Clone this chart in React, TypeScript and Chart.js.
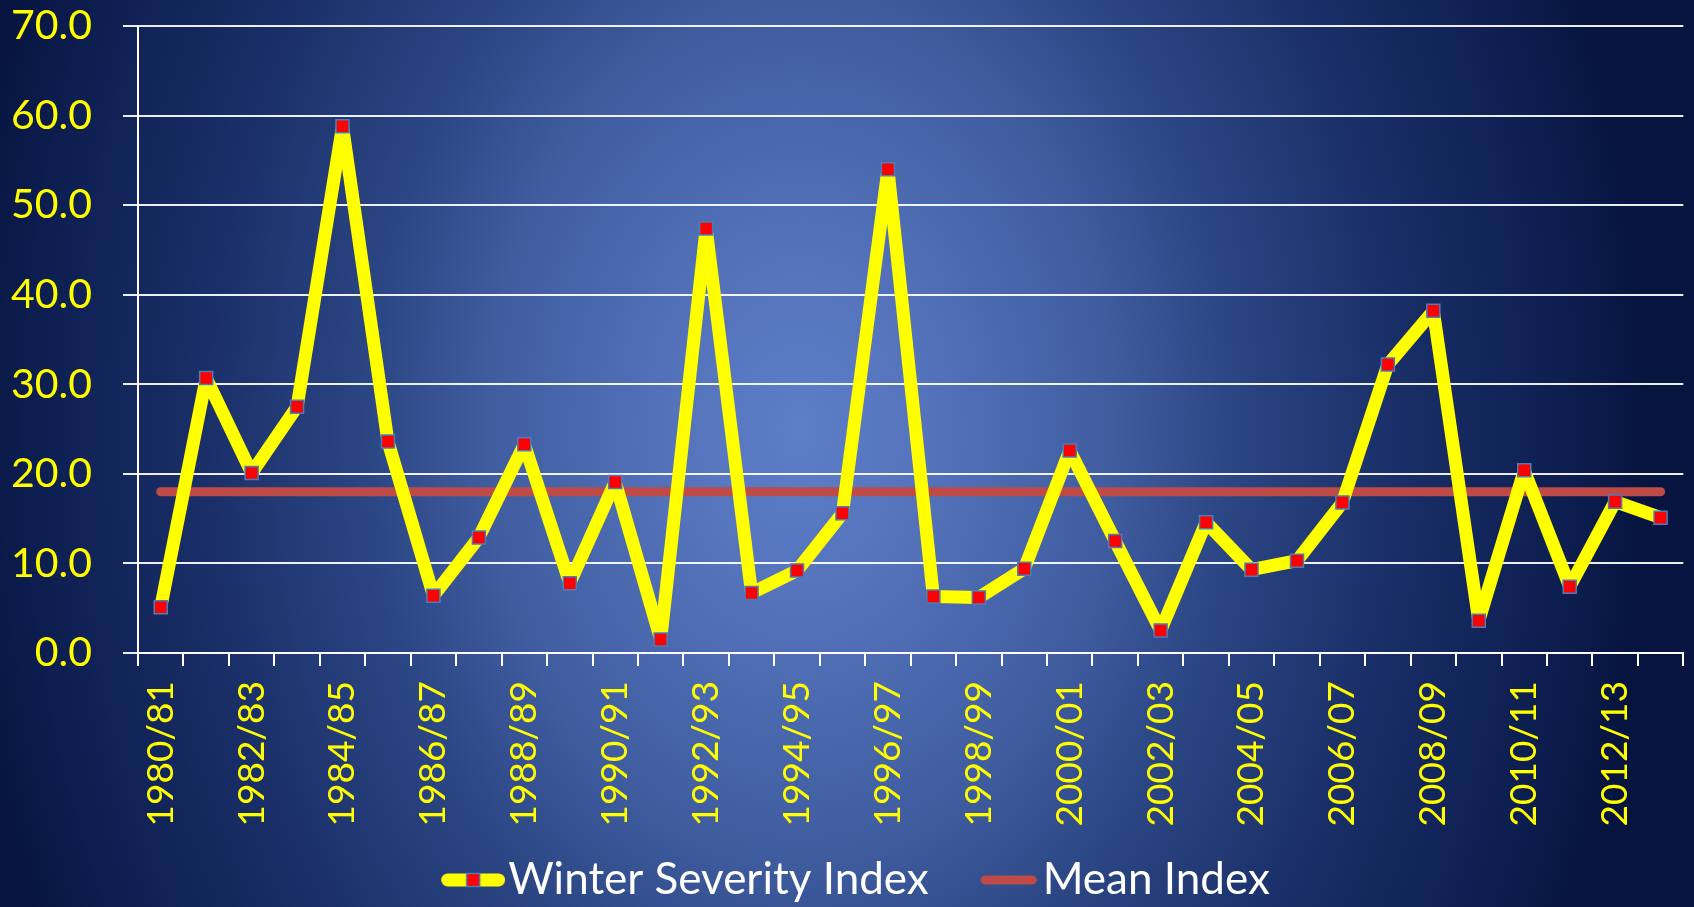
import { useEffect, useRef } from 'react';
import { Chart, registerables } from 'chart.js';

Chart.register(...registerables);

const seasons = [
  '1980/81', '1981/82', '1982/83', '1983/84', '1984/85', '1985/86', '1986/87', '1987/88',
  '1988/89', '1989/90', '1990/91', '1991/92', '1992/93', '1993/94', '1994/95', '1995/96',
  '1996/97', '1997/98', '1998/99', '1999/00', '2000/01', '2001/02', '2002/03', '2003/04',
  '2004/05', '2005/06', '2006/07', '2007/08', '2008/09', '2009/10', '2010/11', '2011/12',
  '2012/13', '2013/14',
];

const severityIndex = [
  5.1, 30.7, 20.1, 27.5, 58.8, 23.6, 6.4, 12.9,
  23.3, 7.8, 19.1, 1.5, 47.4, 6.7, 9.2, 15.6,
  54.0, 6.3, 6.2, 9.4, 22.6, 12.5, 2.5, 14.6,
  9.3, 10.3, 16.8, 32.2, 38.2, 3.6, 20.4, 7.4,
  16.9, 15.1,
];

const meanIndex = [
  18.0, 18.0, 18.0, 18.0, 18.0, 18.0, 18.0, 18.0,
  18.0, 18.0, 18.0, 18.0, 18.0, 18.0, 18.0, 18.0,
  18.0, 18.0, 18.0, 18.0, 18.0, 18.0, 18.0, 18.0,
  18.0, 18.0, 18.0, 18.0, 18.0, 18.0, 18.0, 18.0,
  18.0, 18.0,
];

const seriesNames = ['Winter Severity Index', 'Mean Index'];

const Y_MIN = 0;
const Y_MAX = 70;
const Y_STEP = 10;

const FONT = 'Lato, "Open Sans", "DejaVu Sans", sans-serif';

// legend swatch: content sits in the right 64px of the image so that it ends ~3px before the text
const SWATCH_BOX = 73;
const SWATCH_W = SWATCH_BOX + 38;

function legendSwatch(kind: 'severity' | 'mean'): HTMLCanvasElement {
  const c = document.createElement('canvas');
  c.width = SWATCH_W;
  c.height = 20;
  const g = c.getContext('2d') as CanvasRenderingContext2D;
  g.lineCap = 'round';
  const right = SWATCH_W;
  if (kind === 'severity') {
    g.strokeStyle = '#FFFF00';
    g.lineWidth = 13;
    g.beginPath();
    g.moveTo(right - 57.5, 10);
    g.lineTo(right - 6.5, 10);
    g.stroke();
    const cx = right - 32;
    g.fillStyle = '#FF0000';
    g.fillRect(cx - 6.5, 3.5, 13, 13);
    g.strokeStyle = '#4A7EBB';
    g.lineWidth = 1.5;
    g.strokeRect(cx - 6.5, 3.5, 13, 13);
  } else {
    g.strokeStyle = '#BE4B48';
    g.lineWidth = 9;
    g.beginPath();
    g.moveTo(right - 54.5, 10);
    g.lineTo(right - 7.5, 10);
    g.stroke();
  }
  return c;
}

const backgroundPlugin = {
  id: 'slideBackground',
  beforeDraw(chart: any) {
    const { ctx, width, height } = chart;
    const cx = 800;
    const cy = 430;
    const rx = 850;
    const ry = 1150;
    ctx.save();
    ctx.translate(cx, cy);
    ctx.scale(1, ry / rx);
    const grad = ctx.createRadialGradient(0, 0, 0, 0, 0, rx);
    grad.addColorStop(0, '#5d7ec8');
    grad.addColorStop(0.15, '#5473bb');
    grad.addColorStop(0.37, '#3f5c9f');
    grad.addColorStop(0.5, '#2c4785');
    grad.addColorStop(0.7, '#1a2f68');
    grad.addColorStop(0.9, '#0d1e50');
    grad.addColorStop(1, '#07143f');
    ctx.fillStyle = grad;
    ctx.fillRect(-cx - 10, -(cy + 10) * (rx / ry), width + 20, (height + 20) * (rx / ry) + 20);
    ctx.restore();
  },
};

const legendShiftPlugin = {
  id: 'legendShift',
  afterLayout(chart: any) {
    const lg = chart.legend;
    if (lg) {
      lg.left -= 3;
      lg.right -= 3;
    }
  },
};

export default function App() {
  const canvasRef = useRef<HTMLCanvasElement | null>(null);

  useEffect(() => {
    if (!canvasRef.current) return;
    const swatches = [legendSwatch('severity'), legendSwatch('mean')];
    Chart.defaults.font.family = FONT;

    const chart = new Chart(canvasRef.current, {
      type: 'line',
      data: {
        labels: seasons,
        datasets: [
          {
            label: seriesNames[0],
            data: severityIndex,
            borderColor: '#FFFF00',
            backgroundColor: '#FFFF00',
            borderWidth: 13,
            borderJoinStyle: 'bevel',
            pointStyle: 'rect',
            pointRadius: 9.2,
            pointHoverRadius: 9.2,
            pointBackgroundColor: '#FF0000',
            pointBorderColor: '#4A7EBB',
            pointBorderWidth: 1.5,
            tension: 0,
            order: 0,
          },
          {
            label: seriesNames[1],
            data: meanIndex,
            borderColor: '#BE4B48',
            backgroundColor: '#BE4B48',
            borderWidth: 9,
            borderCapStyle: 'round',
            pointRadius: 0,
            pointHoverRadius: 0,
            tension: 0,
            order: 1,
          },
        ],
      },
      options: {
        responsive: false,
        animation: false,
        layout: { padding: { top: 26, right: 5, bottom: 0, left: 0 } },
        plugins: {
          tooltip: { enabled: false },
          legend: {
            position: 'bottom',
            maxHeight: 68,
            labels: {
              usePointStyle: true,
              pointStyleWidth: SWATCH_BOX,
              padding: 19,
              color: '#FFFFFF',
              font: { family: FONT, size: 44 },
              generateLabels: (ch: any) =>
                Chart.defaults.plugins.legend.labels
                  .generateLabels(ch)
                  .map((item: any) => ({ ...item, pointStyle: swatches[item.datasetIndex] })),
            },
          },
        },
        scales: {
          x: {
            offset: true,
            grid: {
              display: true,
              offset: true,
              drawOnChartArea: false,
              drawTicks: true,
              tickLength: 13,
              color: '#FFFFFF',
              lineWidth: 2,
            },
            border: { display: true, color: '#FFFFFF', width: 2 },
            ticks: {
              autoSkip: false,
              minRotation: 90,
              maxRotation: 90,
              padding: 15,
              color: '#FFFF00',
              font: { family: FONT, size: 37 },
              callback: function (this: any, value: any, index: number) {
                return index % 2 === 0 ? this.getLabelForValue(value) : '';
              },
            },
            afterFit: (scale: any) => {
              scale.height = 186;
              scale.paddingLeft = 0;
              scale.paddingRight = 0;
            },
          },
          y: {
            min: Y_MIN,
            max: Y_MAX,
            ticks: {
              stepSize: Y_STEP,
              padding: 31,
              color: '#FFFF00',
              font: { family: FONT, size: 41 },
              callback: (v: any) => Number(v).toFixed(1),
            },
            grid: {
              color: 'rgba(255,255,255,0.92)',
              lineWidth: 2,
              tickLength: 15,
            },
            border: { display: true, color: '#FFFFFF', width: 2 },
            afterFit: (scale: any) => {
              scale.width = 138;
              scale.paddingTop = 0;
              scale.paddingBottom = 0;
            },
          },
        },
      },
      plugins: [backgroundPlugin, legendShiftPlugin],
    } as any);

    return () => {
      chart.destroy();
    };
  }, []);

  return (
    <div style={{ position: 'fixed', left: 0, top: 0, width: 1694, height: 907 }}>
      <canvas ref={canvasRef} width={1694} height={907} style={{ display: 'block' }} />
    </div>
  );
}
